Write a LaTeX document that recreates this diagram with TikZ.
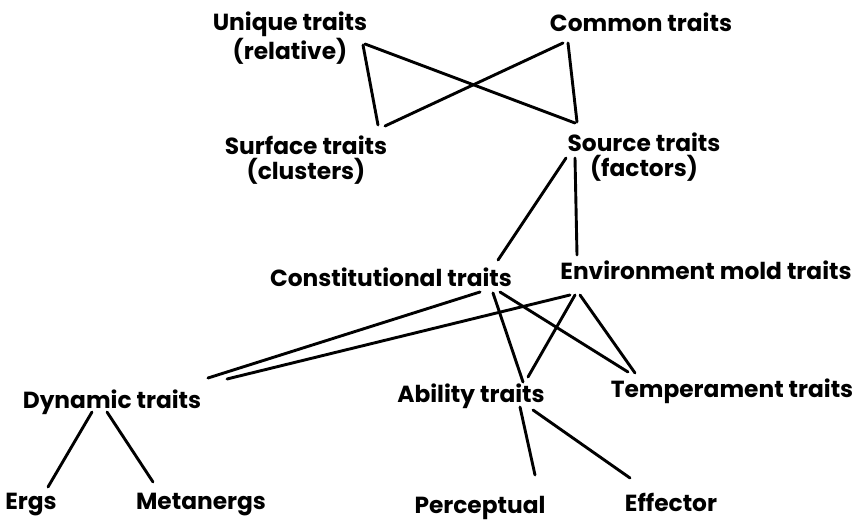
\documentclass[tikz,border=0pt]{standalone}
\usepackage{fontspec}
\setmainfont{Poppins}
\usetikzlibrary{calc}

\tikzset{
  trait/.style={inner sep=0pt, font=\bfseries\fontsize{23.3}{25}\selectfont,
    text height=16.5pt, text depth=0pt},
  pairtrait/.style={inner sep=0pt, align=center,
    font=\bfseries\fontsize{23.3}{25}\selectfont},
  link/.style={line width=2.9pt, line cap=round}
}

\begin{document}
\begin{tikzpicture}[x=1pt, y=-1pt]
\useasboundingbox (0,0) rectangle (856,521);

% top row
\node[pairtrait] (unique)  at (290,38)  {Unique traits\\(relative)};
\node[trait]     (common)  at (641,23)  {Common traits};
\node[pairtrait] (surface) at (306,160) {Surface traits\\(clusters)};
\node[pairtrait] (source)  at (644,157) {Source traits\\(factors)};

% second level
\node[trait] (const) at (391,278) {Constitutional traits};
\node[trait] (env)   at (706,271) {Environment mold traits};

% third level
\node[trait] (dynamic) at (112,400) {Dynamic traits};
\node[trait] (ability) at (471,394) {Ability traits};
\node[trait] (temper)  at (732,389) {Temperament traits};

% bottom row
\node[trait] (ergs)       at (31,501)  {Ergs};
\node[trait] (metanergs)  at (201,501) {Metanergs};
\node[trait] (perceptual) at (480,505) {Perceptual};
\node[trait] (effector)   at (671,503) {Effector};

\begin{scope}[link]
\draw ($(unique)+(75,6)$)   -- ($(source)+(-69,-34)$);
\draw ($(unique)+(73,7)$)   -- ($(surface)+(72,-35)$);
\draw ($(common)+(-78,20)$) -- ($(surface)+(79,-34)$);
\draw ($(common)+(-73,20)$) -- ($(source)+(-67,-35)$);

\draw ($(source)+(-78,1)$) -- ($(const)+(107,-18)$);
\draw ($(source)+(-69,1)$) -- ($(env)+(-129,-16)$);

\draw ($(const)+(89,14)$)  -- ($(dynamic)+(96,-22)$);
\draw ($(const)+(102,15)$) -- ($(ability)+(52,-12)$);
\draw ($(const)+(109,14)$) -- ($(temper)+(-104,-17)$);
\draw ($(env)+(-136,24)$)  -- ($(dynamic)+(115,-21)$);
\draw ($(env)+(-131,24)$)  -- ($(ability)+(57,-17)$);
\draw ($(env)+(-126,24)$)  -- ($(temper)+(-97,-16)$);

\draw ($(dynamic)+(-20,12)$) -- ($(ergs)+(17,-14)$);
\draw ($(dynamic)+(-5,12)$)  -- ($(metanergs)+(-48,-19)$);
\draw ($(ability)+(49,13)$)  -- ($(perceptual)+(55,-30)$);
\draw ($(ability)+(62,16)$)  -- ($(effector)+(-41,-25)$);
\end{scope}

\end{tikzpicture}
\end{document}
